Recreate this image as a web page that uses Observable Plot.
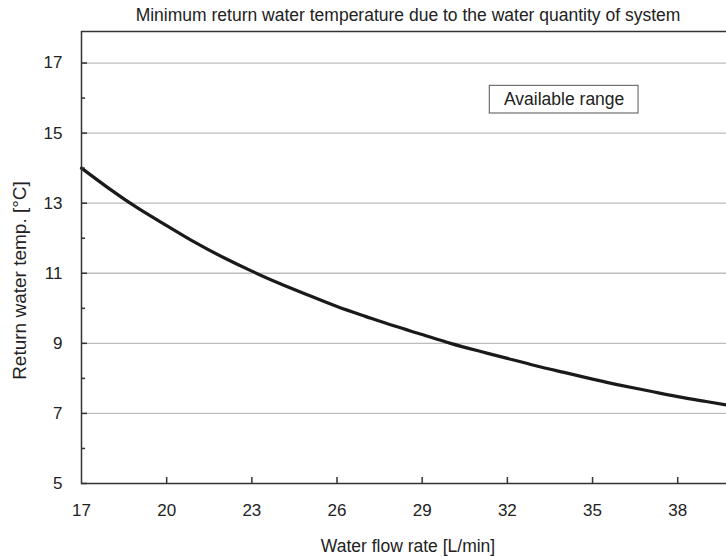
<!DOCTYPE html>
<html><head><meta charset="utf-8">
<script src="https://cdn.jsdelivr.net/npm/d3@7"></script>
<script src="https://cdn.jsdelivr.net/npm/@observablehq/plot@0.6"></script>
<style>
html,body{margin:0;padding:0;background:#fff;overflow:hidden;width:726px;height:557px}
#chart{position:relative;width:726px;height:557px;overflow:hidden}
#chart svg{max-width:none !important;display:block}
</style></head><body><div id="chart"></div>
<script>
// Data
const flow = [17,18,19,20,21,22,23,24,25,26,27,28,29,30,31,32,33,34,35,36,37,38,39,40];
const temp = [14.0,13.4,12.85,12.36,11.88,11.45,11.06,10.7,10.37,10.05,9.77,9.5,9.25,9.0,8.78,8.57,8.36,8.17,7.98,7.8,7.64,7.48,7.34,7.2];
const xTicks = [17,20,23,26,29,32,35,38];
const xMinorTicks = [20,23,26,29,32,35,38];
const yMajorTicks = [5,7,9,11,13,15,17];
const yMinorTicks = [6,8,10,12,14,16];
const gridValues = [7,9,11,13,15,17];
const titleText = "Minimum return water temperature due to the water quantity of system";
const xLabel = "Water flow rate [L/min]";
const yLabel = "Return water temp. [°C]";
const noteLabels = ["Available range"];
const noteX = [34];
const noteY = [15.95];
const noteBoxX1 = [31.38], noteBoxX2 = [36.62], noteBoxY1 = [15.56], noteBoxY2 = [16.35];

const data = flow.map((f, i) => ({flow: f, temp: temp[i]}));
const notes = noteLabels.map((t, i) => ({label: t, x: noteX[i], y: noteY[i], x1: noteBoxX1[i], x2: noteBoxX2[i], y1: noteBoxY1[i], y2: noteBoxY2[i]}));

const W = 734, H = 557, ML = 81, MR = 0, MT = 31, MB = 74;
const plotW = W - ML - MR, plotH = H - MT - MB;
const FS = 17;

const chart = Plot.plot({
  width: W, height: H,
  marginLeft: ML, marginRight: MR, marginTop: MT, marginBottom: MB,
  style: {fontFamily: "'Liberation Sans', Arial, sans-serif", fontSize: FS + "px", color: "#222", background: "#fff", maxWidth: "none", overflow: "visible"},
  x: {domain: [17, 40]},
  y: {domain: [5, 17.9]},
  marks: [
    Plot.ruleY(gridValues, {stroke: "#bdbdbd", strokeWidth: 1.3}),
    Plot.rect(notes, {x1: "x1", x2: "x2", y1: "y1", y2: "y2", fill: "#fff", stroke: "#555", strokeWidth: 1}),
    Plot.text(notes, {x: "x", y: "y", text: "label", fontSize: 17.5, fill: "#222"}),
    Plot.line(data, {x: "flow", y: "temp", curve: "natural", stroke: "#1a1a1a", strokeWidth: 3.2}),
    Plot.tickY(yMajorTicks, {y: d => d, insetRight: plotW - 6, stroke: "#333", strokeWidth: 1.5}),
    Plot.tickY(yMinorTicks, {y: d => d, insetRight: plotW - 4, stroke: "#333", strokeWidth: 1.5}),
    Plot.tickX(xMinorTicks, {x: d => d, insetTop: plotH - 6, stroke: "#333", strokeWidth: 1.5}),
    Plot.frame({stroke: "#333", strokeWidth: 1.5}),
    Plot.axisY({ticks: yMajorTicks, tickSize: 0, tickPadding: 19, fontSize: FS, label: null}),
    Plot.axisX({ticks: xTicks, tickSize: 0, tickPadding: 20, fontSize: FS, label: null}),
    Plot.text([titleText], {frameAnchor: "top", lineAnchor: "middle", dy: -16, fontSize: 17.5, fill: "#222", text: d => d}),
    Plot.text([xLabel], {frameAnchor: "bottom", lineAnchor: "middle", dy: 63, fontSize: 17.5, fill: "#222", text: d => d}),
    Plot.text([yLabel], {frameAnchor: "left", textAnchor: "middle", dx: -62, dy: 23, rotate: -90, fontSize: 19, fill: "#222", text: d => d})
  ]
});
document.getElementById("chart").appendChild(chart);
</script>
</body></html>
